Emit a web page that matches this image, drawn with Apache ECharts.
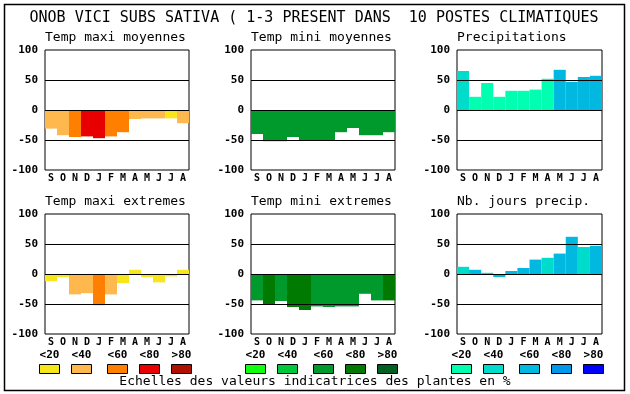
<!DOCTYPE html>
<html><head><meta charset="utf-8">
<script src="https://cdn.jsdelivr.net/npm/echarts@6/dist/echarts.min.js"></script>
<style>html,body{margin:0;padding:0;background:#fff}#c{width:630px;height:394px}</style>
</head><body><div id="c"></div>
<script>
var months = ['S','O','N','D','J','F','M','A','M','J','J','A'];
var yTicks = [-100,-50,0,50,100];
var scaleLabels = ['<20','<40','<60','<80','>80'];
var warm = ['#f8e61c','#ffb84e','#ff8000','#e80000','#b01000'];
var green = ['#10ff10','#00c83c','#009a2c','#007a00','#006020'];
var blue = ['#00ffb0','#00dccc','#00b8e0','#0098e8','#0000ff'];

var titles = ['Temp maxi moyennes','Temp mini moyennes','Precipitations','Temp maxi extremes','Temp mini extremes','Nb. jours precip.'];

var tmaxMoy    = [-31,-42,-45,-44,-47,-44,-37,-15,-14,-14,-14,-22];
var tmaxMoyLvl = [1,1,2,3,3,2,2,1,1,1,0,1];
var tminMoy    = [-40,-52,-52,-45,-50,-50,-50,-37,-30,-42,-42,-37];
var tminMoyLvl = [2,2,2,2,2,2,2,2,2,2,2,2];
var precip     = [65,22,45,22,32,32,34,52,67,47,55,57];
var precipLvl  = [1,0,0,0,0,0,0,0,2,2,2,2];
var tmaxExt    = [-12,-5,-34,-32,-52,-34,-15,7,-5,-14,-4,7];
var tmaxExtLvl = [0,0,1,1,2,1,0,0,0,0,0,0];
var tminExt    = [-44,-50,-45,-55,-60,-54,-55,-54,-54,-33,-44,-44];
var tminExtLvl = [2,3,2,3,3,2,2,2,2,2,2,3];
var nbJours    = [12,7,2,-5,5,10,24,27,34,62,45,47];
var nbJoursLvl = [1,2,1,2,2,2,2,1,2,2,1,2];

var panels = [
  {v:tmaxMoy, l:tmaxMoyLvl, p:warm},
  {v:tminMoy, l:tminMoyLvl, p:green},
  {v:precip, l:precipLvl, p:blue},
  {v:tmaxExt, l:tmaxExtLvl, p:warm},
  {v:tminExt, l:tminExtLvl, p:green},
  {v:nbJours, l:nbJoursLvl, p:blue}
];
var lefts = [45,251,457];
var widths = [144,144,145];
var tops = [50,214];
var mono = 'DejaVu Sans Mono';

var grids=[], xAxes=[], yAxes=[], series=[], graphic=[];
panels.forEach(function(pn,i){
  var col=i%3, row=Math.floor(i/3);
  grids.push({left:lefts[col], top:tops[row], width:widths[col], height:120, show:true, borderColor:'#000', borderWidth:1, backgroundColor:'transparent', containLabel:false});
  xAxes.push({type:'category', gridIndex:i, data:months, axisLine:{show:false}, axisTick:{show:false},
    axisLabel:{color:'#000', fontFamily:mono, fontWeight:'bold', fontSize:10, margin:3, interval:0}});
  yAxes.push({type:'value', gridIndex:i, min:yTicks[0], max:yTicks[yTicks.length-1], interval:50,
    axisLine:{show:false}, axisTick:{show:false}, splitLine:{show:false},
    axisLabel:{color:'#000', fontFamily:mono, fontWeight:'bold', fontSize:11, margin:7}});
  series.push({type:'bar', xAxisIndex:i, yAxisIndex:i, barWidth:'100%', barGap:'0%', animation:false,
    data:pn.v.map(function(v,k){return {value:v, itemStyle:{color:pn.p[pn.l[k]]}};}),
    markLine:{silent:true, symbol:'none', animation:false, label:{show:false},
      lineStyle:{color:'#000', type:'solid', width:1},
      data:[{yAxis:50},{yAxis:0},{yAxis:-50}]}});
  graphic.push({type:'text', x:lefts[col], y:(row===0?38:202), style:{text:titles[i], font:'13px '+mono, fill:'#000', textAlign:'left', textVerticalAlign:'middle', verticalAlign:'middle'}});
});

graphic.push({type:'rect', shape:{x:4.5, y:4.5, width:620, height:386}, style:{fill:'none', stroke:'#000', lineWidth:1.5}});
graphic.push({type:'text', x:314, y:18, style:{text:'ONOB VICI SUBS SATIVA ( 1-3 PRESENT DANS  10 POSTES CLIMATIQUES', font:'15px '+mono, fill:'#000', textAlign:'center', textVerticalAlign:'middle', verticalAlign:'middle'}});
graphic.push({type:'text', x:315, y:382, style:{text:'Echelles des valeurs indicatrices des plantes en %', font:'13px '+mono, fill:'#000', textAlign:'center', textVerticalAlign:'middle', verticalAlign:'middle'}});

var boxX = [[39,71,107,139,171],[245,277,313,345,377],[451,483,519,551,583]];
var pals = [warm, green, blue];
boxX.forEach(function(xs,g){
  xs.forEach(function(x,k){
    graphic.push({type:'rect', shape:{x:x+0.5, y:364.5, width:20, height:9}, style:{fill:pals[g][k], stroke:'#000', lineWidth:1}});
    graphic.push({type:'text', x:x+10.5, y:355, style:{text:scaleLabels[k], font:'bold 11px '+mono, fill:'#000', textAlign:'center', textVerticalAlign:'middle', verticalAlign:'middle'}});
  });
});

var chart = echarts.init(document.getElementById('c'), null, {renderer:'canvas'});
chart.setOption({animation:false, backgroundColor:'#fff', grid:grids, xAxis:xAxes, yAxis:yAxes, series:series, graphic:graphic});
</script></body></html>
